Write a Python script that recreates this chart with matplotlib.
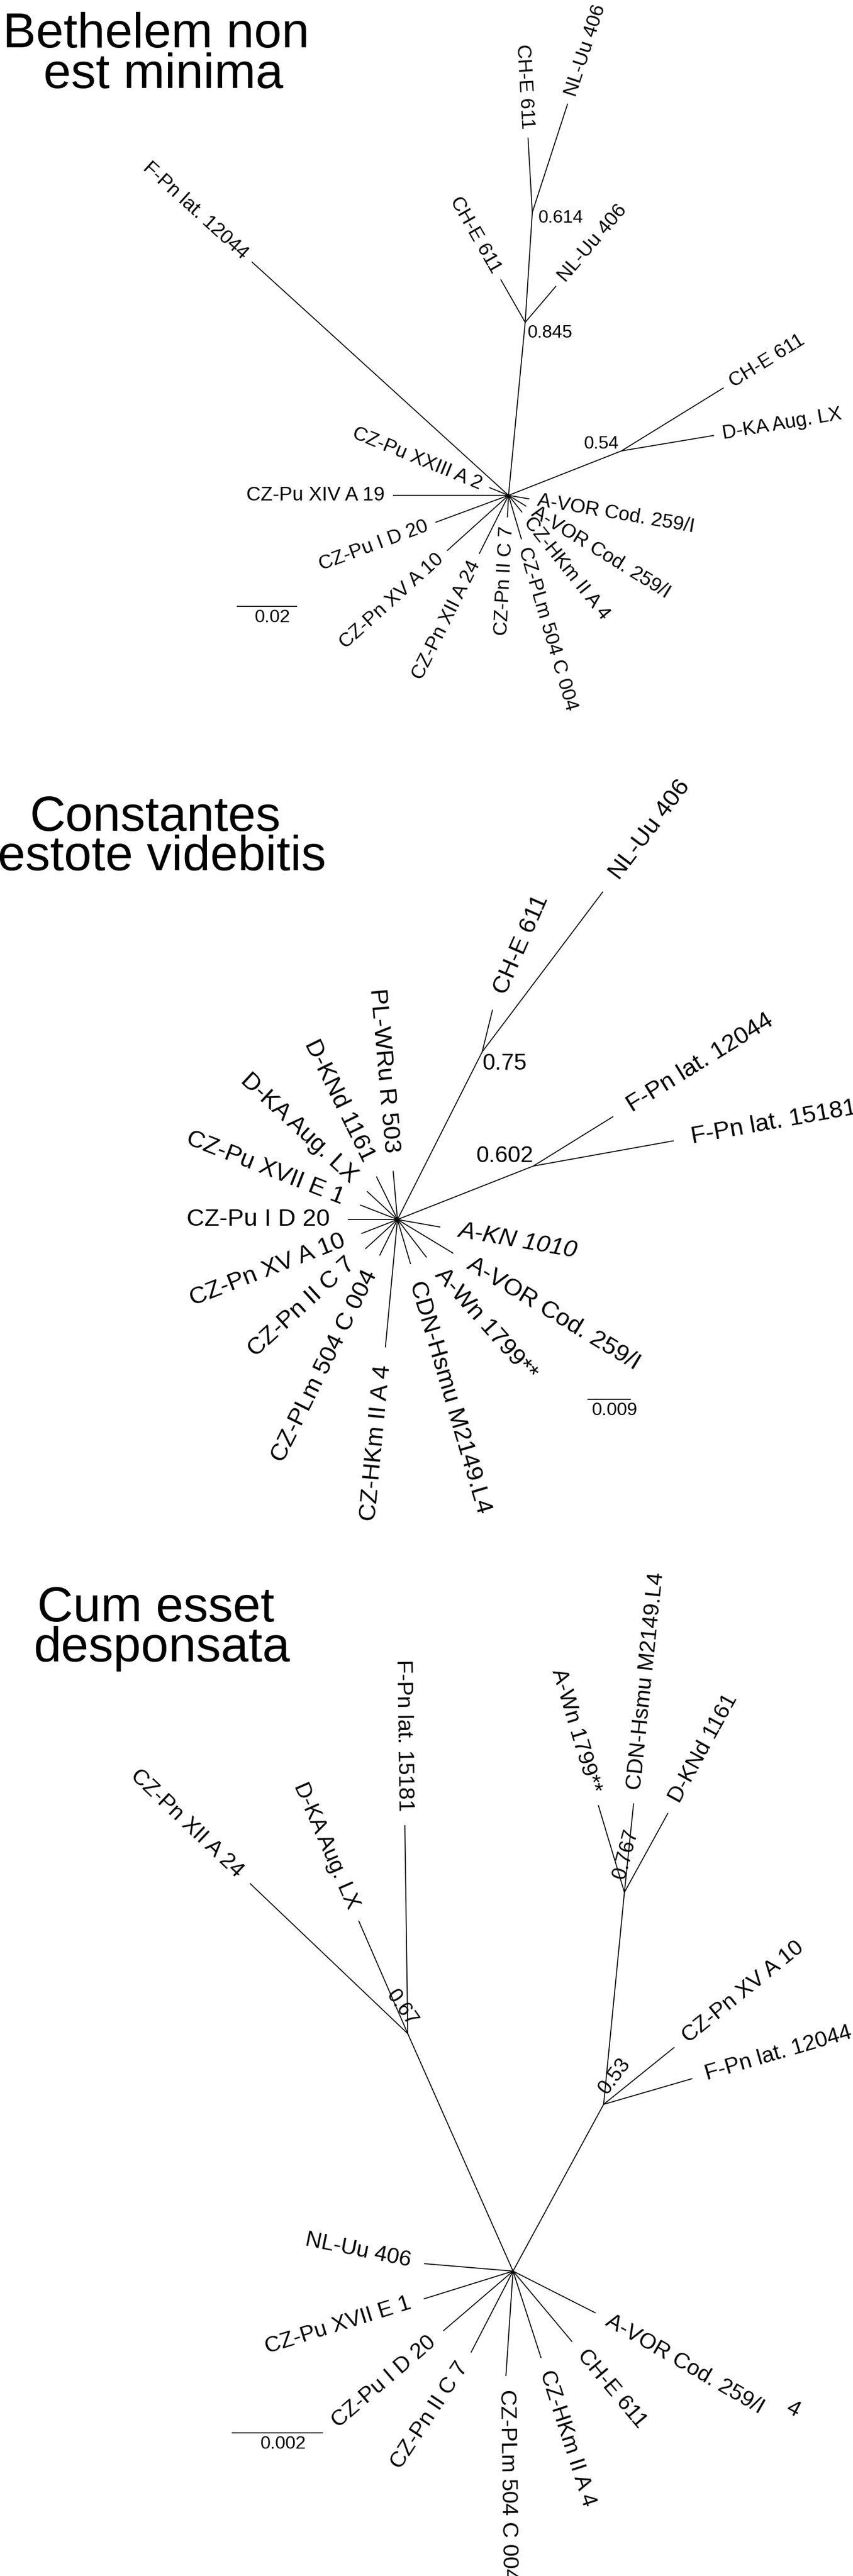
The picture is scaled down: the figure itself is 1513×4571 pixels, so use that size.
import numpy as np
import matplotlib
matplotlib.use("Agg")
import matplotlib.pyplot as plt

plt.rcParams['font.family'] = ['Liberation Sans', 'DejaVu Sans']

W, H = 1513, 4571

# ---------------- data ----------------
# 1) Bethelem non est minima
t1_title = ["Bethelem non", "est minima"]
n1_parent = [-1, 0, 1, 0]                  # internal nodes, 0 = centre
n1_len = [0.0, 0.0576, 0.0365, 0.0402]
n1_ang = [0.0, 84.5, 86.3, 21.5]
n1_support = ["", "0.845", "0.614", "0.54"]
t1_labels = ["F-Pn lat. 12044", "CH-E 611", "NL-Uu 406", "CH-E 611", "NL-Uu 406",
             "CH-E 611", "D-KA Aug. LX", "CZ-Pu XXIII A 2", "CZ-Pu XIV A 19",
             "CZ-Pu I D 20", "CZ-Pn XV A 10", "CZ-Pn XII A 24", "CZ-Pn II C 7",
             "CZ-PLm 504 C 004", "CZ-HKm II A 4", "A-VOR Cod. 259/I", "A-VOR Cod. 259/I"]
t1_parent = [0, 1, 1, 2, 2, 3, 3, 0, 0, 0, 0, 0, 0, 0, 0, 0, 0]
t1_len = [0.1150, 0.0164, 0.0158, 0.0248, 0.0379, 0.0398, 0.0311, 0.0069, 0.0383,
          0.0258, 0.0274, 0.0217, 0.0073, 0.0152, 0.0072, 0.0069, 0.0070]
t1_ang = [137.7, 119.7, 49.6, 93.3, 72.0, 31.7, 9.5, 157.8, 180.0,
          200.3, 222.0, 243.4, 267.1, 286.4, 308.7, 328.3, 350.3]
t1_scale = 0.02

# 2) Constantes estote videbitis
t2_title = ["Constantes", "estote videbitis"]
n2_parent = [-1, 0, 0]
n2_len = [0.0, 0.03885, 0.03018]
n2_ang = [0.0, 63.2, 21.5]
n2_support = ["", "0.75", "0.602"]
t2_labels = ["CH-E 611", "NL-Uu 406", "F-Pn lat. 12044", "F-Pn lat. 15181", "A-KN 1010",
             "A-VOR Cod. 259/I", "A-Wn 1799**", "CDN-Hsmu M2149.L4", "CZ-HKm II A 4",
             "CZ-PLm 504 C 004", "CZ-Pn II C 7", "CZ-Pn XV A 10", "CZ-Pu I D 20",
             "CZ-Pu XVII E 1", "D-KA Aug. LX", "D-KNd 1161", "PL-WRu R 503"]
t2_parent = [1, 1, 2, 2, 0, 0, 0, 0, 0, 0, 0, 0, 0, 0, 0, 0, 0]
t2_len = [0.00897, 0.04149, 0.01945, 0.02949, 0.0090, 0.0135, 0.0099, 0.0096, 0.02655,
          0.0083, 0.0090, 0.0080, 0.0102, 0.0083, 0.0086, 0.0099, 0.0101]
t2_ang = [76.2, 53.0, 31.8, 10.2, -10.0, -31.2, -52.5, -73.6, 264.6,
          243.6, 222.4, 201.3, 180.0, 158.7, 137.2, 116.1, 95.1]
t2_scale = 0.009

# 3) Cum esset desponsata
t3_title = ["Cum esset", "desponsata"]
n3_parent = [-1, 0, 0, 2]
n3_len = [0.0, 0.005683, 0.004152, 0.004662]
n3_ang = [0.0, 113.9, 61.5, 84.4]
n3_support = ["", "0.67", "0.53", "0.767"]
t3_labels = ["CZ-Pn XII A 24", "D-KA Aug. LX", "F-Pn lat. 15181", "CZ-Pn XV A 10",
             "F-Pn lat. 12044", "A-Wn 1799**", "CDN-Hsmu M2149.L4", "D-KNd 1161",
             "NL-Uu 406", "CZ-Pu XVII E 1", "CZ-Pu I D 20", "CZ-Pn II C 7",
             "CZ-PLm 504 C 004", "CZ-HKm II A 4", "CH-E 611", "A-VOR Cod. 259/I"]
t3_parent = [1, 1, 1, 2, 2, 3, 3, 3, 0, 0, 0, 0, 0, 0, 0, 0]
t3_len = [0.004767, 0.002695, 0.004563, 0.001988, 0.002021, 0.00199, 0.001956, 0.001979,
          0.001953, 0.002047, 0.002011, 0.002005, 0.0023, 0.001998, 0.002016, 0.002025]
t3_ang = [136.4, 113.5, 90.8, 38.9, 16.2, 106.7, 84.1, 61.2,
          175.2, 197.3, 220.6, 242.7, 266.1, 287.9, 309.9, 333.1]
t3_scale = 0.002
t3_extra = "4"

# ---------------- layout ----------------
panels = [
    dict(title=t1_title, npar=n1_parent, nlen=n1_len, nang=n1_ang, sup=n1_support,
         labels=t1_labels, tpar=t1_parent, tlen=t1_len, tang=t1_ang, scale=t1_scale,
         band=(0, 1300), hub=(902, 879), pxu=5355, gap=15, fs=25.2, sfs=23,
         title_pos=[(277, 84), (290, 156)], label_dir={},
         sup_pos=[None, (4, -19, 'left', 0), (11, -10, 'left', 0), (-4, 12, 'right', 0)],
         bar=(420, 1076)),
    dict(title=t2_title, npar=n2_parent, nlen=n2_len, nang=n2_ang, sup=n2_support,
         labels=t2_labels, tpar=t2_parent, tlen=t2_len, tang=t2_ang, scale=t2_scale,
         band=(1300, 2780), hub=(705, 2164), pxu=8580, gap=32, fs=31.3, sfs=29.2,
         title_pos=[(275, 1474), (287, 1544)], label_dir={0: 66.4, 6: -48.5},
         sup_pos=[None, (0, -21, 'left', 0), (0, 18, 'right', 0)],
         bar=(1042, 2483), italic={"A-KN 1010"}),
    dict(title=t3_title, npar=n3_parent, nlen=n3_len, nang=n3_ang, sup=n3_support,
         labels=t3_labels, tpar=t3_parent, tlen=t3_len, tang=t3_ang, scale=t3_scale,
         band=(2780, H), hub=(910, 4030), pxu=81100, gap=24, fs=28.4, sfs=26,
         title_pos=[(276, 2877), (287, 2948)],
         label_dir={8: 168.5, 11: 236.5, 12: 270.8, 15: 330.0},
         sup_pos=[None, (9, 17, 'right', -55), (-2, 22, 'left', 53), (-9, 24, 'left', 75)],
         bar=(411, 4317), extra=(t3_extra, 1406, 4275, -28)),
]

LW = 1.25
fig = plt.figure(figsize=(W / 100, H / 100), dpi=100)

for p in panels:
    top, bot = p['band']
    hx, hy = p['hub']
    s = p['pxu']
    ax = fig.add_axes([0, 1 - bot / H, 1, (bot - top) / H])
    ax.set_xlim(-hx / s, (W - hx) / s)
    ax.set_ylim(-(bot - hy) / s, (hy - top) / s)
    ax.axis('off')

    # internal nodes
    npar = p['npar']
    nodes = np.zeros((len(npar), 2))
    for i in range(1, len(npar)):
        a = np.radians(p['nang'][i])
        nodes[i] = nodes[npar[i]] + p['nlen'][i] * np.array([np.cos(a), np.sin(a)])
        ax.plot([nodes[npar[i], 0], nodes[i, 0]], [nodes[npar[i], 1], nodes[i, 1]],
                color='black', lw=LW, solid_capstyle='butt')

    # tips and their labels
    for k, lab in enumerate(p['labels']):
        a = np.radians(p['tang'][k])
        p0 = nodes[p['tpar'][k]]
        p1 = p0 + p['tlen'][k] * np.array([np.cos(a), np.sin(a)])
        ax.plot([p0[0], p1[0]], [p0[1], p1[1]], color='black', lw=LW,
                solid_capstyle='butt')
        d = p['label_dir'].get(k, p['tang'][k])
        ar = np.radians(d)
        pos = p1 + p['gap'] / s * np.array([np.cos(ar), np.sin(ar)])
        if np.cos(ar) < 0:
            rot, ha = d - 180, 'right'
        else:
            rot, ha = d, 'left'
        rot = (rot + 180) % 360 - 180
        style = 'italic' if lab in p.get('italic', set()) else 'normal'
        ax.text(pos[0], pos[1], lab, rotation=rot, ha=ha, va='center',
                rotation_mode='anchor', fontsize=p['fs'], style=style, clip_on=False)

    # support values
    for i, txt in enumerate(p['sup']):
        if not txt:
            continue
        dx, dy, ha, rot = p['sup_pos'][i]
        ax.annotate(txt, xy=nodes[i], xytext=(dx, dy), textcoords='offset pixels',
                    ha=ha, va='center', rotation=rot, rotation_mode='anchor',
                    fontsize=p['sfs'], annotation_clip=False)

    # scale bar
    bx, by = p['bar']
    x0, y0 = (bx - hx) / s, (hy - by) / s
    ax.plot([x0, x0 + p['scale']], [y0, y0], color='black', lw=LW,
            solid_capstyle='butt', clip_on=False)
    ax.annotate(f"{p['scale']:g}", xy=(x0 + p['scale'] / 2, y0), xytext=(10, -5),
                textcoords='offset pixels', ha='center', va='top', fontsize=23.4,
                annotation_clip=False)

    if 'extra' in p:
        txt, ex, ey, er = p['extra']
        fig.text(ex / W, 1 - ey / H, txt, rotation=er, ha='center', va='center',
                 fontsize=p['fs'])

    # title
    for line, (tx, ty) in zip(p['title'], p['title_pos']):
        fig.text(tx / W, 1 - ty / H, line, ha='center', va='baseline', fontsize=63.4)

fig.savefig("out.png", dpi=100, facecolor='white')
